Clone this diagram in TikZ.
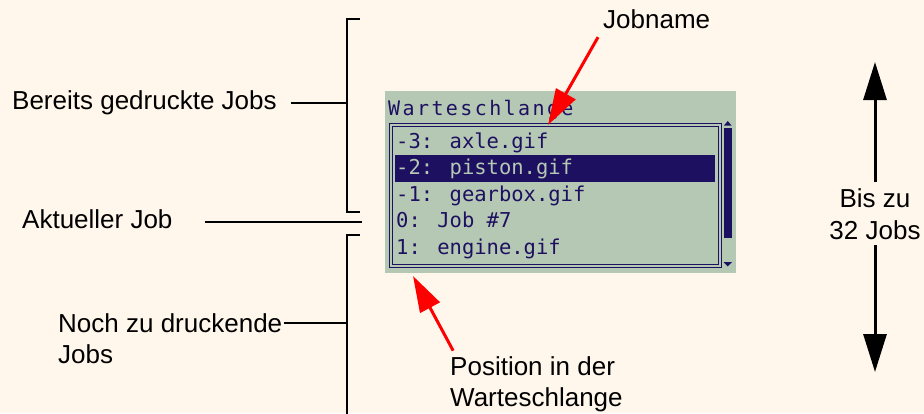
\documentclass[tikz,border=0pt]{standalone}
\usepackage{fontspec}
\setmainfont{Liberation Sans}
\newfontfamily\lcdfont{DejaVu Sans Mono}
\newfontfamily\lcdwidefont[LetterSpace=12]{DejaVu Sans Mono}
\usetikzlibrary{arrows.meta,positioning,calc}
\definecolor{paper}{HTML}{FFF7EC}
\definecolor{lcdgreen}{HTML}{B5C8B4}
\definecolor{lcdink}{HTML}{1E1060}
\definecolor{markred}{HTML}{FF0000}
\tikzset{
  label/.style={
    font=\fontsize{26}{31.5}\selectfont,
    inner sep=0pt,
    align=left,
    text=black
  },
  leader/.style={
    line width=2.2pt,
    draw=black
  },
  pointer/.style={
    -{Triangle[length=36pt,width=22pt]},
    line width=3pt,
    draw=markred
  },
  span/.style={
    -{Triangle[length=38pt,width=23pt]},
    line width=3pt,
    draw=black
  },
  lcdrow/.style={
    font=\lcdfont\fontsize{20.5}{24}\selectfont,
    inner sep=0pt,
    anchor=base west
  }
}

\begin{document}
\begin{tikzpicture}[x=1pt,y=-1pt]
\fill[paper] (0,0) rectangle (924,413);
\useasboundingbox (0,0) rectangle (924,413);
% display
\fill[lcdgreen] (385,91) rectangle (736,273);
\node[lcdrow, text=lcdink, font=\lcdwidefont\fontsize{20}{22}\selectfont] (title) at (388,115) {Warteschlange};
\draw[lcdink, line width=1.2pt] (389.5,123.5) rectangle (721.5,267.5);
\draw[lcdink, line width=1pt] (392.5,126.5) rectangle (718.5,264.5);
\fill[lcdink] (395,155) rectangle (715,182);
\foreach \entry/\ink [count=\i] in {-3: axle.gif/lcdink, -2: piston.gif/lcdgreen,
    -1: gearbox.gif/lcdink, 0: Job \#7/lcdink, 1: engine.gif/lcdink}
  \node[lcdrow, text=\ink] (row\i) at (396,{148+(\i-1)*26.5}) {\entry};
% scrollbar
\fill[lcdink] (724,128) rectangle (731.5,238);
\fill[lcdink] (727.75,121) -- (731.5,125.5) -- (724,125.5) -- cycle;
\fill[lcdink] (723.5,262) -- (732,262) -- (727.75,266.5) -- cycle;

% brackets
\coordinate (doneMid) at (347,103);
\coordinate (currentEnd) at (362,222);
\coordinate (pendingMid) at (347,323);
\draw[leader] (360,19) -| (347,212) -- (360,212);
\draw[leader] (360,235) -| (347,420);

% labels on the left
\node[label, anchor=base west] (done) at (12,109) {Bereits gedruckte Jobs};
\node[label, anchor=base west] (current) at (22,228) {Aktueller Job};
\node[label, anchor=base west] (pending) at (58,363.5) {Noch zu druckende\\Jobs};
\draw[leader, shorten <=14pt] (done.east |- doneMid) -- (doneMid);
\draw[leader, shorten <=32pt] (current.east |- currentEnd) -- (currentEnd);
\draw[leader, shorten <=2pt] (pending.east |- pendingMid) -- (pendingMid);

% red pointers
\coordinate (nameTip) at (548,125);
\coordinate (posTip) at (413,276);
\node[label, anchor=base west] (jobname) at (603,28) {Jobname};
\node[label, anchor=base west] (position) at (450,406.5) {Position in der\\Warteschlange};
\draw[pointer, shorten <=10pt] (jobname.south west) -- (nameTip);
\draw[pointer, shorten <=6pt] ([xshift=6pt]position.north west) -- (posTip);

% queue length
\coordinate (limitTop) at (875,62);
\coordinate (limitBot) at (875,372);
\node[label, align=center, inner ysep=6pt, anchor=base] (limit) at (875,239) {Bis zu\\32 Jobs};
\draw[span] (limit.north) -- (limitTop);
\draw[span] (limit.south) -- (limitBot);
\end{tikzpicture}
\end{document}
